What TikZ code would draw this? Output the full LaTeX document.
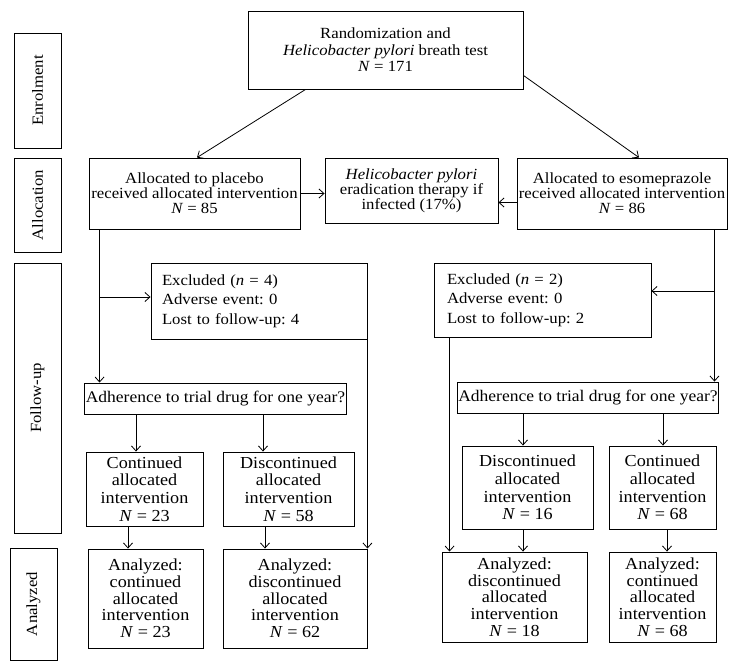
\documentclass[tikz,border=0pt]{standalone}
\usepackage{fontspec}
\setmainfont[FakeStretch=1.08]{Liberation Serif}
\frenchspacing
\usetikzlibrary{arrows.meta,calc}
\tikzset{
  box/.style={draw, line width=0.9pt, inner sep=1pt, align=center},
  fA/.style={font=\fontsize{15.5}{15}\selectfont},
  fT/.style={font=\fontsize{15.5}{16.5}\selectfont},
  fE/.style={font=\fontsize{15.5}{19.3}\selectfont},
  fD/.style={font=\fontsize{16.2}{16}\selectfont},
  fF/.style={font=\fontsize{16.8}{17.7}\selectfont},
  fN/.style={font=\fontsize{16.8}{16.7}\selectfont},
  side/.style={draw, line width=0.9pt, inner sep=1pt, minimum width=47},
  sidet/.style={rotate=90, font=\fontsize{15.5}{15}\selectfont},
  arr/.style={line width=0.8pt, -{Straight Barb[length=5pt,width=9pt]}}
}
\begin{document}
\begin{tikzpicture}[x=1pt,y=-1pt]
\useasboundingbox (0,0) rectangle (729,671);
% side labels
\node[side, minimum height=115] (enr) at (37.5,90.5) {};
\node[sidet] (enrt) at (enr.center) {Enrolment};
\node[side, minimum height=94] (alo) at (37.5,205) {};
\node[sidet] (alot) at (alo.center) {Allocation};
\node[side, minimum height=270] (fup) at (37.5,398) {};
\node[sidet] (fupt) at (fup.center) {Follow-up};
\node[side, minimum height=112] (anl) at (33.5,604) {};
\node[sidet] (anlt) at (anl.center) {Analyzed};
% main boxes
\node[box, fT, minimum width=275, minimum height=78] (top) at (385.5,50) {Randomization and\\\textit{Helicobacter pylori} breath test\\\textit{N} = 171};
\node[box, fA, minimum width=211, minimum height=71] (plac) at (194.5,193.5) {Allocated to placebo\\received allocated intervention\\\textit{N} = 85};
\node[box, fA, minimum width=173, minimum height=65] (hp) at (411.5,190.5) {\textit{Helicobacter pylori}\\eradication therapy if\\infected (17\%)};
\node[box, fA, minimum width=210, minimum height=71] (eso) at (622,193.5) {Allocated to esomeprazole\\received allocated intervention\\\textit{N} = 86};
\node[box, fE, minimum width=216, minimum height=76, align=left, text width=194, inner xsep=11] (exL) at (259,301) {Excluded (\textit{n} = 4)\\Adverse event: 0\\Lost to follow-up: 4};
\node[box, fE, minimum width=217, minimum height=74, align=left, text width=191, inner xsep=13] (exR) at (542.5,300) {Excluded (\textit{n} = 2)\\Adverse event: 0\\Lost to follow-up: 2};
\node[box, fD, minimum width=259, minimum height=31] (adL) at (215.5,398.5) {Adherence to trial drug for one year?};
\node[box, fD, minimum width=252, minimum height=31] (adR) at (588,397.5) {Adherence to trial drug for one year?};
\node[box, fF, minimum width=117, minimum height=74] (contL) at (144.5,489) {Continued\\allocated\\intervention\\\textit{N} = 23};
\node[box, fF, minimum width=131, minimum height=74] (discL) at (288.5,489) {Discontinued\\allocated\\intervention\\\textit{N} = 58};
\node[box, fF, minimum width=131, minimum height=83] (discR) at (527.5,487.5) {Discontinued\\allocated\\intervention\\\textit{N} = 16};
\node[box, fF, minimum width=107, minimum height=83] (contR) at (662.5,487.5) {Continued\\allocated\\intervention\\\textit{N} = 68};
\node[box, fN, minimum width=115, minimum height=99] (anCL) at (145.5,598.5) {Analyzed:\\continued\\allocated\\intervention\\\textit{N} = 23};
\node[box, fN, minimum width=144, minimum height=99] (anDL) at (295,598.5) {Analyzed:\\discontinued\\allocated\\intervention\\\textit{N} = 62};
\node[box, fN, minimum width=145, minimum height=90] (anDR) at (514.5,597) {Analyzed:\\discontinued\\allocated\\intervention\\\textit{N} = 18};
\node[box, fN, minimum width=107, minimum height=90] (anCR) at (662.5,597) {Analyzed:\\continued\\allocated\\intervention\\\textit{N} = 68};
% connectors
\draw[arr] ($(top.south west)+(58,0)$) -- ($(plac.north)+(2.5,0)$);
\draw[arr] ($(top.south east)+(0,-14)$) -- ($(eso.north)+(17,0)$);
\draw[arr] (plac.east) -- (plac.east -| hp.west);
\coordinate (e1) at ($(eso.west)+(0,9)$);
\draw[arr] (e1) -- (e1 -| hp.east);
% left branch
\coordinate (ls) at ($(plac.south west)+(11,0)$);
\draw[arr] (ls) -- (ls |- adL.north);
\coordinate (lb) at (100,297);
\draw[arr] (lb) -- (lb -| exL.west);
\draw[arr] (exL.south east) -- (anDL.north east);
% right branch
\coordinate (rs) at ($(eso.south east)+(-13,0)$);
\draw[arr] (rs) -- (rs |- adR.north);
\coordinate (rb) at (714,291);
\draw[arr] (rb) -- (rb -| exR.east);
\coordinate (xr) at ($(exR.south west)+(16,0)$);
\draw[arr] (xr) -- (xr |- anDR.north);
% adherence splits
\coordinate (a1) at (136,414);
\coordinate (a2) at (263,414);
\draw[arr] (a1) -- (a1 |- contL.north);
\draw[arr] (a2) -- (a2 |- discL.north);
\coordinate (a3) at (523,413);
\coordinate (a4) at (663,413);
\draw[arr] (a3) -- (a3 |- discR.north);
\draw[arr] (a4) -- (a4 |- contR.north);
% to analyzed
\coordinate (c1) at (128,526);
\coordinate (c2) at (265,526);
\draw[arr] (c1) -- (c1 |- anCL.north);
\draw[arr] (c2) -- (c2 |- anDL.north);
\coordinate (c3) at (523,529);
\coordinate (c4) at (667,529);
\draw[arr] (c3) -- (c3 |- anDR.north);
\draw[arr] (c4) -- (c4 |- anCR.north);
\end{tikzpicture}
\end{document}
